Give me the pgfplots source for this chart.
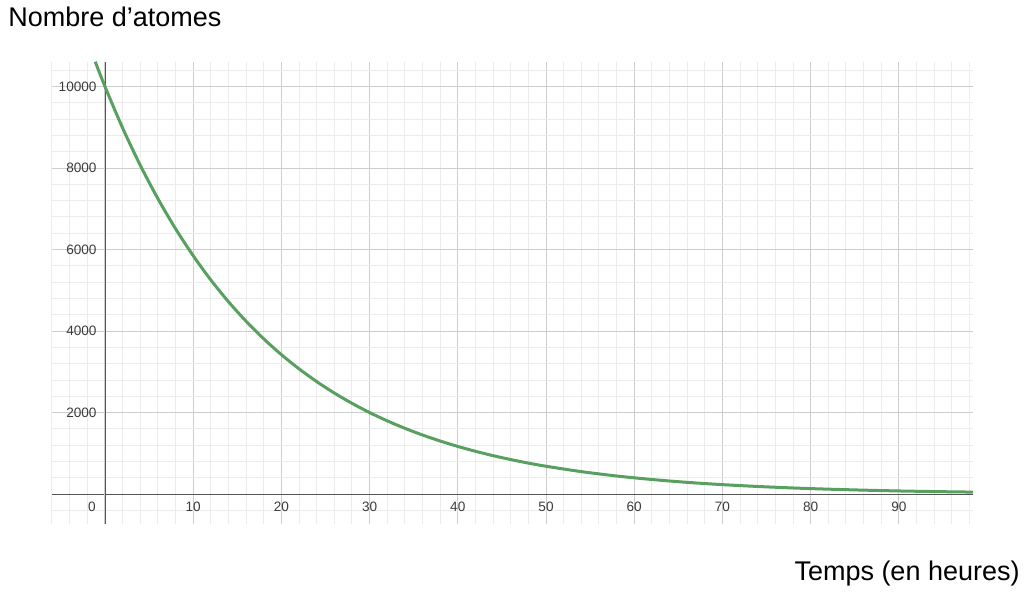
\documentclass[border=0pt]{standalone}
\usepackage{fontspec}
\setmainfont{Liberation Sans}
\usepackage{pgfplots}
\pgfplotsset{compat=1.18}
\definecolor{curvegreen}{RGB}{88,160,96}
\definecolor{axisgray}{RGB}{85,85,85}
\definecolor{majorgrid}{RGB}{205,205,205}
\definecolor{minorgrid}{RGB}{236,236,236}
\definecolor{labelgray}{RGB}{60,60,60}
\begin{document}
\begin{tikzpicture}
\path[use as bounding box] (-26pt,-34pt) rectangle (486pt,262pt);
\begin{axis}[
    scale only axis,
    width=460.5pt, height=231pt,
    xmin=-6, xmax=98.4,
    ymin=-730, ymax=10600,
    axis lines=middle,
    axis line style={draw=axisgray, line width=0.7pt, -},
    xtick={10,20,...,90},
    extra x ticks={0},
    extra x tick style={xticklabel style={xshift=-6.5pt}},
    ytick={0,2000,...,10000},
    scaled y ticks=false,
    minor xtick={-6,-4,...,98},
    minor ytick={-400,0,...,10400},
    hide obscured x ticks=false,
    major tick length=0pt, minor tick length=0pt,
    grid=both,
    major grid style={draw=majorgrid, line width=0.5pt},
    minor grid style={draw=minorgrid, line width=0.5pt},
    tick label style={font=\fontsize{6.8}{8}\selectfont, text=labelgray},
    /pgf/number format/assume math mode=true,
    /pgf/number format/set thousands separator={},
    xticklabel style={anchor=center, inner sep=0pt, yshift=-6.5pt},
    yticklabel style={anchor=east, inner sep=0pt, xshift=-4pt},
]
\addplot[curvegreen, line width=1.5pt, smooth] coordinates {
    (-1.1,10607) (0,10000) (2,8983) (4,8070) (6,7250) (8,6513) (10,5851)
    (12,5256) (14,4722) (16,4242) (18,3811) (20,3423) (22,3075)
    (24,2763) (26,2482) (28,2230) (30,2003) (32,1799) (34,1617)
    (36,1452) (38,1305) (40,1172) (42,1053) (44,946) (46,850)
    (48,763) (50,686) (54,554) (58,447) (62,361) (66,291) (70,235)
    (74,190) (78,153) (82,124) (86,100) (90,80) (94,65) (98.4,52)
};
\end{axis}
\node[anchor=base west, inner sep=0pt, font=\fontsize{13.5}{16}\selectfont] at (-22pt,248.5pt) {Nombre d’atomes};
\node[anchor=base east, inner sep=0pt, font=\fontsize{13.5}{16}\selectfont] at (484pt,-28.5pt) {Temps (en heures)};
\end{tikzpicture}
\end{document}
